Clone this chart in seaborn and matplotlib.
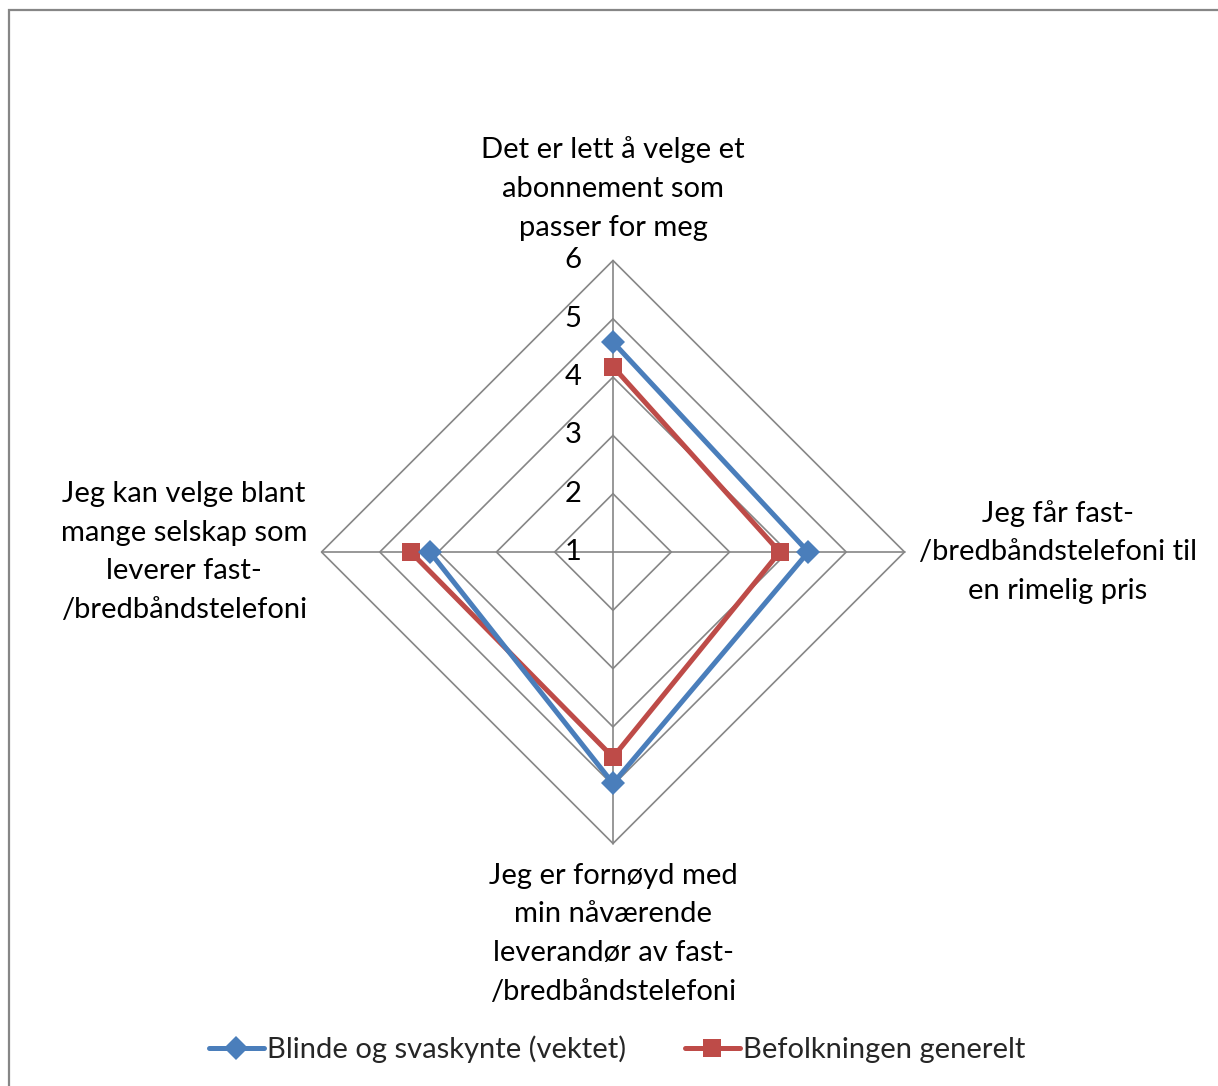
import numpy as np
import pandas as pd
import matplotlib
matplotlib.use("Agg")
import matplotlib.pyplot as plt
import seaborn as sns

# categories, clockwise from the top
categories = [
    "Det er lett å velge et\nabonnement som\npasser for meg",
    "Jeg får fast-\n/bredbåndstelefoni til\nen rimelig pris",
    "Jeg er fornøyd med\nmin nåværende\nleverandør av fast-\n/bredbåndstelefoni",
    "Jeg kan velge blant\nmange selskap som\nleverer fast-\n/bredbåndstelefoni",
]
blinde = [4.6, 4.35, 4.97, 4.14]
befolkning = [4.18, 3.86, 4.52, 4.47]
series_names = ["Blinde og svaskynte (vektet)", "Befolkningen generelt"]
ticks = [1, 2, 3, 4, 5, 6]

r_min = ticks[0]
r_max = ticks[-1]

sns.set_theme(style="white")
plt.rcParams["font.family"] = ["Lato", "DejaVu Sans"]

W, H = 1218, 1086
fig = plt.figure(figsize=(W / 100, H / 100), dpi=100)

# axes placed so the chart centre sits at (613, 552) px, 58.3 px per unit
unit = 58.3
half = 5.5
side = 2 * half * unit
cx, cy = 613, H - 552
ax = fig.add_axes([(cx - side / 2) / W, (cy - side / 2) / H, side / W, side / H])
ax.set_xlim(-half, half)
ax.set_ylim(-half, half)
ax.set_aspect("equal")
ax.axis("off")

angles = np.pi / 2 - np.arange(len(categories)) * np.pi / 2
grid_col = "#868686"
fs = 21

# diamond rings and spokes
for t in ticks[1:]:
    rr = t - r_min
    xs = np.append(rr * np.cos(angles), rr * np.cos(angles[0]))
    ys = np.append(rr * np.sin(angles), rr * np.sin(angles[0]))
    ax.plot(xs, ys, color=grid_col, lw=1.2, zorder=1)
R = r_max - r_min
for a in angles:
    ax.plot([0, R * np.cos(a)], [0, R * np.sin(a)], color=grid_col, lw=1.2, zorder=1)

# tick labels along the top spoke
for t in ticks:
    ax.text(-0.69, t - r_min, str(t), ha="center", va="center", fontsize=fs, color="black")


def closed(vals):
    r = np.array(vals) - r_min
    x = r * np.cos(angles)
    y = r * np.sin(angles)
    return pd.DataFrame({"x": np.append(x, x[0]), "y": np.append(y, y[0])})


d1 = closed(blinde)
d2 = closed(befolkning)
sns.lineplot(data=d1, x="x", y="y", sort=False, ax=ax, color="#4A7EBB", lw=3.6,
             marker="D", markersize=12, markeredgewidth=0, label=series_names[0], zorder=4)
sns.lineplot(data=d2, x="x", y="y", sort=False, ax=ax, color="#BE4B48", lw=3.6,
             marker="s", markersize=13.5, markeredgewidth=0, label=series_names[1], zorder=3)
ax.set_xlabel("")
ax.set_ylabel("")
handles, labels = ax.get_legend_handles_labels()
ax.get_legend().remove()

# category labels
label_pos = [(0, 6.24), (7.63, 0.0), (0, -6.55), (-7.36, 0.0)]
for txt, (lx, ly) in zip(categories, label_pos):
    ax.text(lx, ly, txt, ha="center", va="center", fontsize=fs, linespacing=1.61,
            color="black", clip_on=False)

fig.legend(handles, labels, loc="center", bbox_to_anchor=(617 / W, 1 - 1049 / H), ncol=2,
           frameon=False, fontsize=fs, handlelength=1.9, handletextpad=0.1,
           columnspacing=2.0)

# chart area border
fig.patches.append(plt.Rectangle((8.5 / W, -0.05), 1.2, (H - 9.5) / H + 0.05,
                                 transform=fig.transFigure, fill=False,
                                 edgecolor=grid_col, lw=1.6))

fig.savefig("out.png", dpi=100)
